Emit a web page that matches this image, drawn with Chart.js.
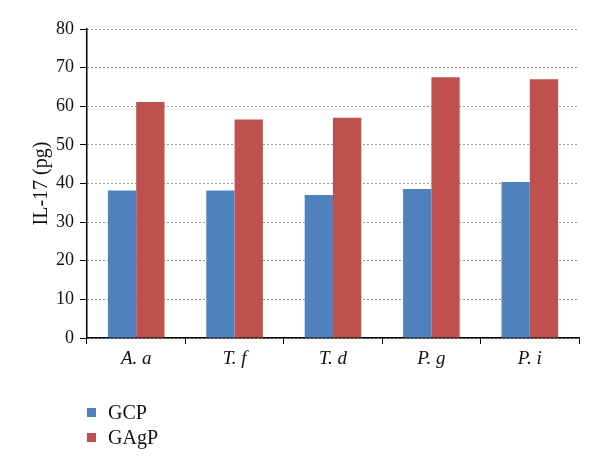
<!DOCTYPE html>
<html>
<head>
<meta charset="utf-8">
<script src="https://cdn.jsdelivr.net/npm/chart.js@4"></script>
<style>
  body { margin: 0; background: #fff; }
  #wrap { position: relative; width: 600px; height: 469px; }
  #legend { position: absolute; left: 87px; top: 400px; font-family: "Liberation Serif", serif; font-size: 20px; color: #111; }
  .item { height: 25px; line-height: 25px; display: flex; align-items: center; }
  .box { width: 9px; height: 9px; margin-right: 12px; }
</style>
</head>
<body>
<div id="wrap">
  <canvas id="chart" width="600" height="469"></canvas>
  <div id="legend"></div>
</div>
<script>
const categories = ["A. a", "T. f", "T. d", "P. g", "P. i"];
const gcpValues = [38.2, 38.2, 37.0, 38.6, 40.4];
const gagpValues = [61.1, 56.6, 57.0, 67.5, 67.0];
const yTicks = [0, 10, 20, 30, 40, 50, 60, 70, 80];

const serif = "Liberation Serif";

function makeChart() {
  const ctx = document.getElementById('chart');
  const chart = new Chart(ctx, {
    type: 'bar',
    data: {
      labels: categories,
      datasets: [{
        label: 'GCP',
        data: gcpValues,
        backgroundColor: '#4F81BD',
        borderWidth: 0
      }, {
        label: 'GAgP',
        data: gagpValues,
        backgroundColor: '#C0504D',
        borderWidth: 0
      }]
    },
    options: {
      responsive: false,
      animation: false,
      categoryPercentage: 0.575,
      barPercentage: 1.0,
      layout: { padding: { left: 0, right: 21, top: 29, bottom: 91 } },
      plugins: {
        legend: { display: false },
        tooltip: { enabled: false }
      },
      scales: {
        x: {
          grid: { drawOnChartArea: false, drawTicks: true, tickLength: 6, tickColor: '#000', offset: true },
          border: { color: '#000', width: 1.5 },
          ticks: { color: '#111', padding: 4, font: { family: serif, size: 19, style: 'italic' } },
          afterFit: s => { s.height = 40; }
        },
        y: {
          min: 0,
          max: 80,
          afterBuildTicks: s => { s.ticks = yTicks.map(v => ({ value: v })); },
          grid: { color: '#333', lineWidth: 1, tickBorderDash: [], tickColor: '#000', tickLength: 7 },
          border: { color: '#000', width: 1.5, dash: [1, 3] },
          ticks: { color: '#111', padding: 6, font: { family: serif, size: 18 } },
          title: { display: true, text: 'IL-17 (pg)', color: '#111', padding: { top: 30 }, font: { family: serif, size: 20 } },
          afterFit: s => { s.width = 87; }
        }
      }
    }
  });

  // legend below the chart, one item per line
  const legend = document.getElementById('legend');
  chart.data.datasets.forEach(ds => {
    const item = document.createElement('div');
    item.className = 'item';
    const box = document.createElement('span');
    box.className = 'box';
    box.style.background = ds.backgroundColor;
    const txt = document.createElement('span');
    txt.textContent = ds.label;
    item.appendChild(box);
    item.appendChild(txt);
    legend.appendChild(item);
  });
}

makeChart()
</script>
</body>
</html>
